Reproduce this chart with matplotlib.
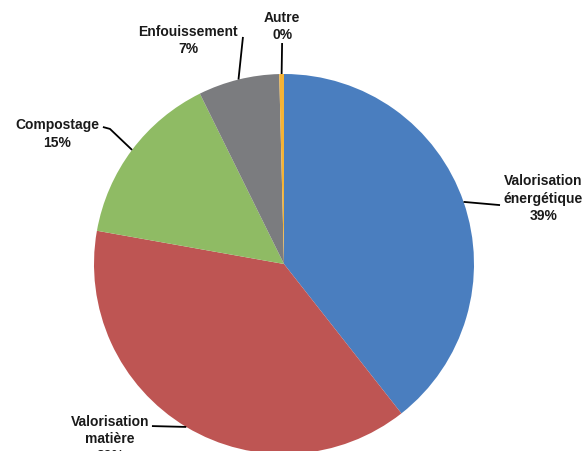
import numpy as np
import matplotlib
matplotlib.use('Agg')
import matplotlib.pyplot as plt

labels = ['Valorisation\nénergétique\n39%', 'Valorisation\nmatière\n39%', 'Compostage\n15%',
          'Enfouissement\n7%', 'Autre\n0%']
values = [39.4, 38.4, 14.9, 6.9, 0.4]
colors = ['#4A7EBF', '#BE5553', '#8FBB64', '#7B7C7F', '#F5B335']

# label centre and end of leader line, in pie units (radius = 1)
text_pos = [(1.365, 0.35), (-0.915, -0.915), (-1.195, 0.69), (-0.505, 1.18), (-0.01, 1.255)]
line_end = [[(1.137, 0.31)], [(-0.695, -0.853)], [(-0.916, 0.711), (-0.953, 0.721)],
            [(-0.216, 1.195)], [(-0.01, 1.163)]]

fig = plt.figure(figsize=(5.85, 4.52), dpi=100)
ax = fig.add_axes([94 / 585, -3 / 452, 380 / 585, 380 / 452])

wedges, _ = ax.pie(values, colors=colors, startangle=90, counterclock=False, radius=1,
                   wedgeprops=dict(linewidth=0))
ax.set_xlim(-1, 1)
ax.set_ylim(-1, 1)
ax.set_aspect('equal')
ax.axis('off')

for w, lab, tp, ends in zip(wedges, labels, text_pos, line_end):
    mid = np.deg2rad((w.theta1 + w.theta2) / 2)
    xs = [np.cos(mid)] + [p[0] for p in ends]
    ys = [np.sin(mid)] + [p[1] for p in ends]
    ax.plot(xs, ys, color='black', lw=1.3, clip_on=False, solid_capstyle='butt')
    ax.text(tp[0], tp[1], lab, ha='center', va='center', fontsize=10, fontweight='semibold',
            family=['Liberation Sans', 'DejaVu Sans'], color='#1a1a1a',
            linespacing=1.3, clip_on=False)

fig.savefig('out.png', dpi=100)
